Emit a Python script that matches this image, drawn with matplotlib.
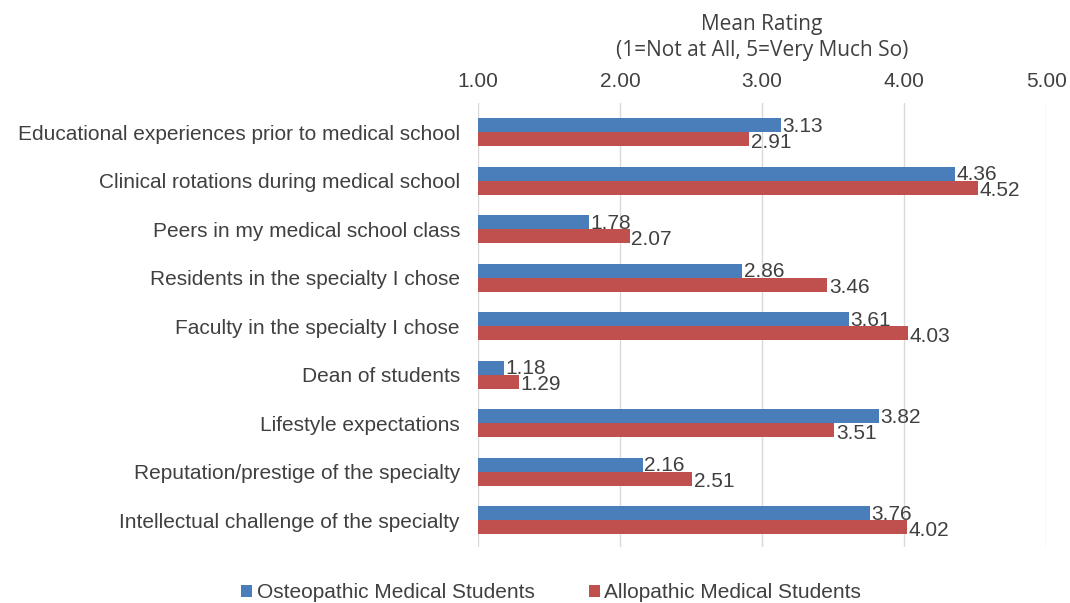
import numpy as np
import matplotlib.pyplot as plt

categories = [
    "Educational experiences prior to medical school",
    "Clinical rotations during medical school",
    "Peers in my medical school class",
    "Residents in the specialty I chose",
    "Faculty in the specialty I chose",
    "Dean of students",
    "Lifestyle expectations",
    "Reputation/prestige of the specialty",
    "Intellectual challenge of the specialty",
]
osteopathic = [3.13, 4.36, 1.78, 2.86, 3.61, 1.18, 3.82, 2.16, 3.76]
allopathic = [2.91, 4.52, 2.07, 3.46, 4.03, 1.29, 3.51, 2.51, 4.02]
ticks = [1, 2, 3, 4, 5]

blue = "#4a7ebb"
red = "#c0504d"
text_col = "#404040"
fs = 15

plt.rcParams["font.family"] = ["Liberation Sans", "DejaVu Sans"]

fig = plt.figure(figsize=(10.70, 6.03), dpi=100)
ax = fig.add_axes([0.4467, 0.093, 0.531, 0.736])

y = np.arange(len(categories))
h = 0.29
ax.barh(y - h / 2, np.array(osteopathic) - 1, left=1, height=h, color=blue,
        label="Osteopathic Medical Students", zorder=3)
ax.barh(y + h / 2, np.array(allopathic) - 1, left=1, height=h, color=red,
        label="Allopathic Medical Students", zorder=3)

for i in range(len(categories)):
    ax.text(osteopathic[i] + 0.01, y[i] - h / 2 + 0.02, f"{osteopathic[i]:.2f}",
            va="center", ha="left", fontsize=fs, color=text_col, zorder=4)
    ax.text(allopathic[i] + 0.01, y[i] + h / 2 + 0.06, f"{allopathic[i]:.2f}",
            va="center", ha="left", fontsize=fs, color=text_col, zorder=4)

ax.set_xlim(1, 5)
ax.set_ylim(len(categories) - 0.45, -0.6)
ax.set_xticks(ticks)
ax.set_xticklabels([f"{t:.2f}" for t in ticks])
ax.xaxis.tick_top()
ax.set_yticks(y)
ax.set_yticklabels(categories)
ax.tick_params(axis="both", length=0, labelsize=fs, colors=text_col)
ax.tick_params(axis="y", pad=13)
ax.tick_params(axis="x", pad=9)
ax.grid(axis="x", color="#d9d9d9", linewidth=1, zorder=0)
for s in ["top", "right", "bottom", "left"]:
    ax.spines[s].set_visible(False)

ax.set_title("Mean Rating\n(1=Not at All, 5=Very Much So)", fontsize=fs,
             color=text_col, family=["Open Sans", "DejaVu Sans"], pad=34,
             linespacing=1.3)

fig.legend(loc="lower center", bbox_to_anchor=(0.515, -0.03), ncol=2,
           frameon=False, fontsize=fs, handlelength=0.55, handleheight=0.55,
           handletextpad=0.2, columnspacing=2.6, labelcolor=text_col)

fig.savefig("out.png", dpi=100)
